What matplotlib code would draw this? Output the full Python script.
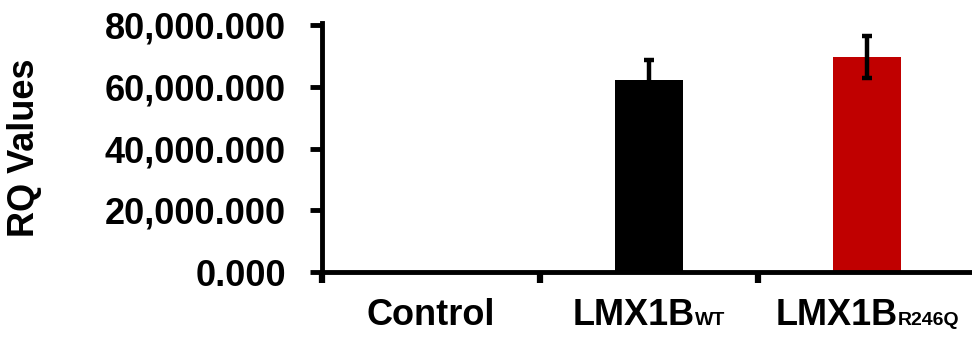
import matplotlib
matplotlib.use("Agg")
import matplotlib.pyplot as plt

plt.rcParams['font.family'] = ['Liberation Sans', 'DejaVu Sans']
plt.rcParams['font.weight'] = 'bold'

groups = ['Control', 'LMX1B', 'LMX1B']
subscripts = ['', 'WT', 'R246Q']
rq_values = [0.0, 62200.0, 69600.0]
rq_errors = [0.0, 6500.0, 6800.0]
bar_colors = ['black', 'black', '#c00000']
ytick_values = [0, 20000, 40000, 60000, 80000]

W, H = 972, 343
fig = plt.figure(figsize=(W / 100, H / 100), dpi=100)
left, right, top, bottom = 322, 976, 23, 272
ax = fig.add_axes([left / W, 1 - bottom / H, (right - left) / W, (bottom - top) / H])

x = list(range(len(groups)))
ax.bar(x, rq_values, width=0.31, color=bar_colors, zorder=2)
for xi, v, e in zip(x, rq_values, rq_errors):
    if e > 0:
        ax.errorbar(xi, v, yerr=e, fmt='none', ecolor='black', elinewidth=3.2,
                    capsize=3.5, capthick=3.2, zorder=3)

ax.set_xlim(-0.5, 2.5)
ax.set_ylim(0, 80000 * 249 / 247)
ax.set_yticks(ytick_values)
ax.set_yticklabels(['{:,.3f}'.format(v) for v in ytick_values], fontsize=26, fontweight='bold')
ax.tick_params(axis='y', length=9, width=3.5, pad=17)

ax.set_xticks(x)
ax.set_xticklabels([])
ax.tick_params(axis='x', which='major', length=0)
ax.set_xticks([-0.5, 0.5, 1.5], minor=True)
ax.tick_params(axis='x', which='minor', length=8, width=4.5)

for s in ['top', 'right']:
    ax.spines[s].set_visible(False)
for s in ['left', 'bottom']:
    ax.spines[s].set_linewidth(3.5)

fig.text(25 / W, 1 - 147.5 / H, 'RQ Values', rotation=90, ha='center', va='center',
         fontsize=26, fontweight='bold')

# category labels, subscripts sit on the same baseline
fig.canvas.draw()
renderer = fig.canvas.get_renderer()
base_y = 1 - 325 / H
for xi, name, sub in zip(x, groups, subscripts):
    t_main = fig.text(0, base_y, name, fontsize=26, fontweight='bold', va='baseline', ha='left')
    t_sub = fig.text(0, base_y, sub, fontsize=14, fontweight='bold', va='baseline', ha='left')
    w_main = t_main.get_window_extent(renderer).width
    w_sub = t_sub.get_window_extent(renderer).width if sub else 0
    cx = ax.transData.transform((xi, 0))[0]
    x0 = cx - (w_main + w_sub) / 2
    t_main.set_x(x0 / W)
    t_sub.set_x((x0 + w_main) / W)

fig.savefig('out.png', dpi=100)
